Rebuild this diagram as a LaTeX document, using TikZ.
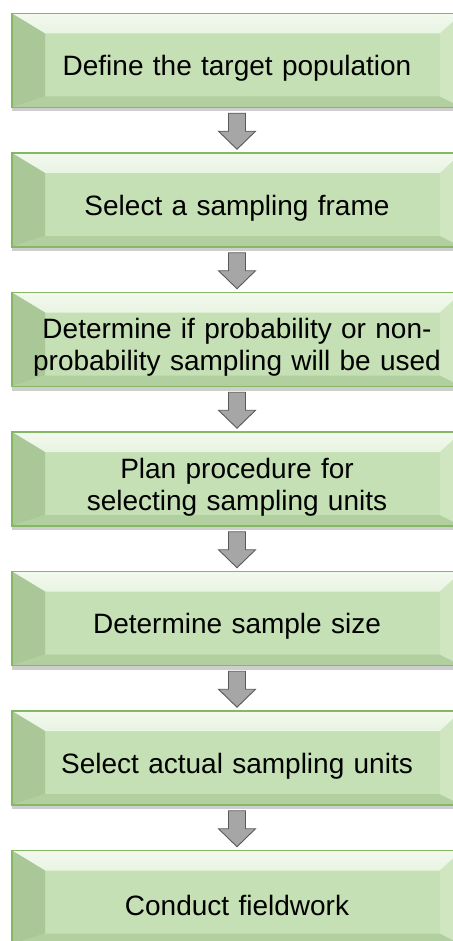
\documentclass[tikz,border=0pt]{standalone}
\usepackage{fontspec}
\setmainfont{Liberation Sans}
\usetikzlibrary{positioning,calc,shadows}

\definecolor{boxfill}{HTML}{C5E0B4}
\definecolor{boxline}{HTML}{84B862}
\definecolor{bevtop}{HTML}{F2F9EE}
\definecolor{bevleft}{HTML}{AAC897}
\definecolor{bevbot}{HTML}{B2D09F}
\definecolor{bevright}{HTML}{CFE6C1}
\definecolor{arrowfill}{HTML}{A6A6A6}
\definecolor{arrowline}{HTML}{595959}

\tikzset{
  bevelbox/.style={
    draw=boxline, line width=1.2pt, fill=boxfill,
    minimum width=450pt, minimum height=94pt, inner sep=0pt,
    text width=430pt, align=center,
    font=\fontsize{28}{32}\selectfont,
    execute at begin node={\rule{0pt}{36pt}},
    drop shadow={shadow xshift=0pt, shadow yshift=-4pt, opacity=.35, fill=black!55},
    path picture={
      \shade[top color=bevtop, bottom color=boxfill]
        (path picture bounding box.north west) -- (path picture bounding box.north east)
        -- ([shift={(-22pt,-20pt)}]path picture bounding box.north east)
        -- ([shift={(33pt,-20pt)}]path picture bounding box.north west) -- cycle;
      \fill[bevleft]
        (path picture bounding box.north west)
        -- ([shift={(33pt,-20pt)}]path picture bounding box.north west)
        -- ([shift={(33pt,11pt)}]path picture bounding box.south west)
        -- (path picture bounding box.south west) -- cycle;
      \fill[bevbot]
        (path picture bounding box.south west)
        -- ([shift={(33pt,11pt)}]path picture bounding box.south west)
        -- ([shift={(-22pt,11pt)}]path picture bounding box.south east)
        -- (path picture bounding box.south east) -- cycle;
      \fill[bevright]
        (path picture bounding box.north east)
        -- (path picture bounding box.south east)
        -- ([shift={(-22pt,11pt)}]path picture bounding box.south east)
        -- ([shift={(-22pt,-20pt)}]path picture bounding box.north east) -- cycle;
    }
  },
  blockarrow/.style={draw=arrowline, line width=0.9pt, fill=arrowfill, line join=miter}
}

\begin{document}
\begin{tikzpicture}[x=1pt, y=1pt, node distance=44.3pt]
\useasboundingbox (0,0) rectangle (452,-941);
\path
node[bevelbox] (pop) at (237,-60.5) {Define the target population}
node[bevelbox, below=of pop] (frame) {Select a sampling frame}
node[bevelbox, below=of frame] (prob) {Determine if probability or non-\\probability sampling will be used}
node[bevelbox, below=of prob] (plan) {Plan procedure for\\selecting sampling units}
node[bevelbox, below=of plan] (size) {Determine sample size}
node[bevelbox, below=of size] (units) {Select actual sampling units}
node[bevelbox, below=of units] (field) {Conduct fieldwork}
;
% block arrows between the steps
\foreach \a/\b [count=\i] in {pop/frame, frame/prob, prob/plan, plan/size, size/units, units/field}
  \draw[blockarrow] ($(\a.south)!.5!(\b.north)$) coordinate (arr\i)
    +(-8.5,17) -- +(8.5,17) -- +(8.5,-1) -- +(18.5,-1) -- +(0,-19)
    -- +(-18.5,-1) -- +(-8.5,-1) -- cycle;
\end{tikzpicture}
\end{document}
